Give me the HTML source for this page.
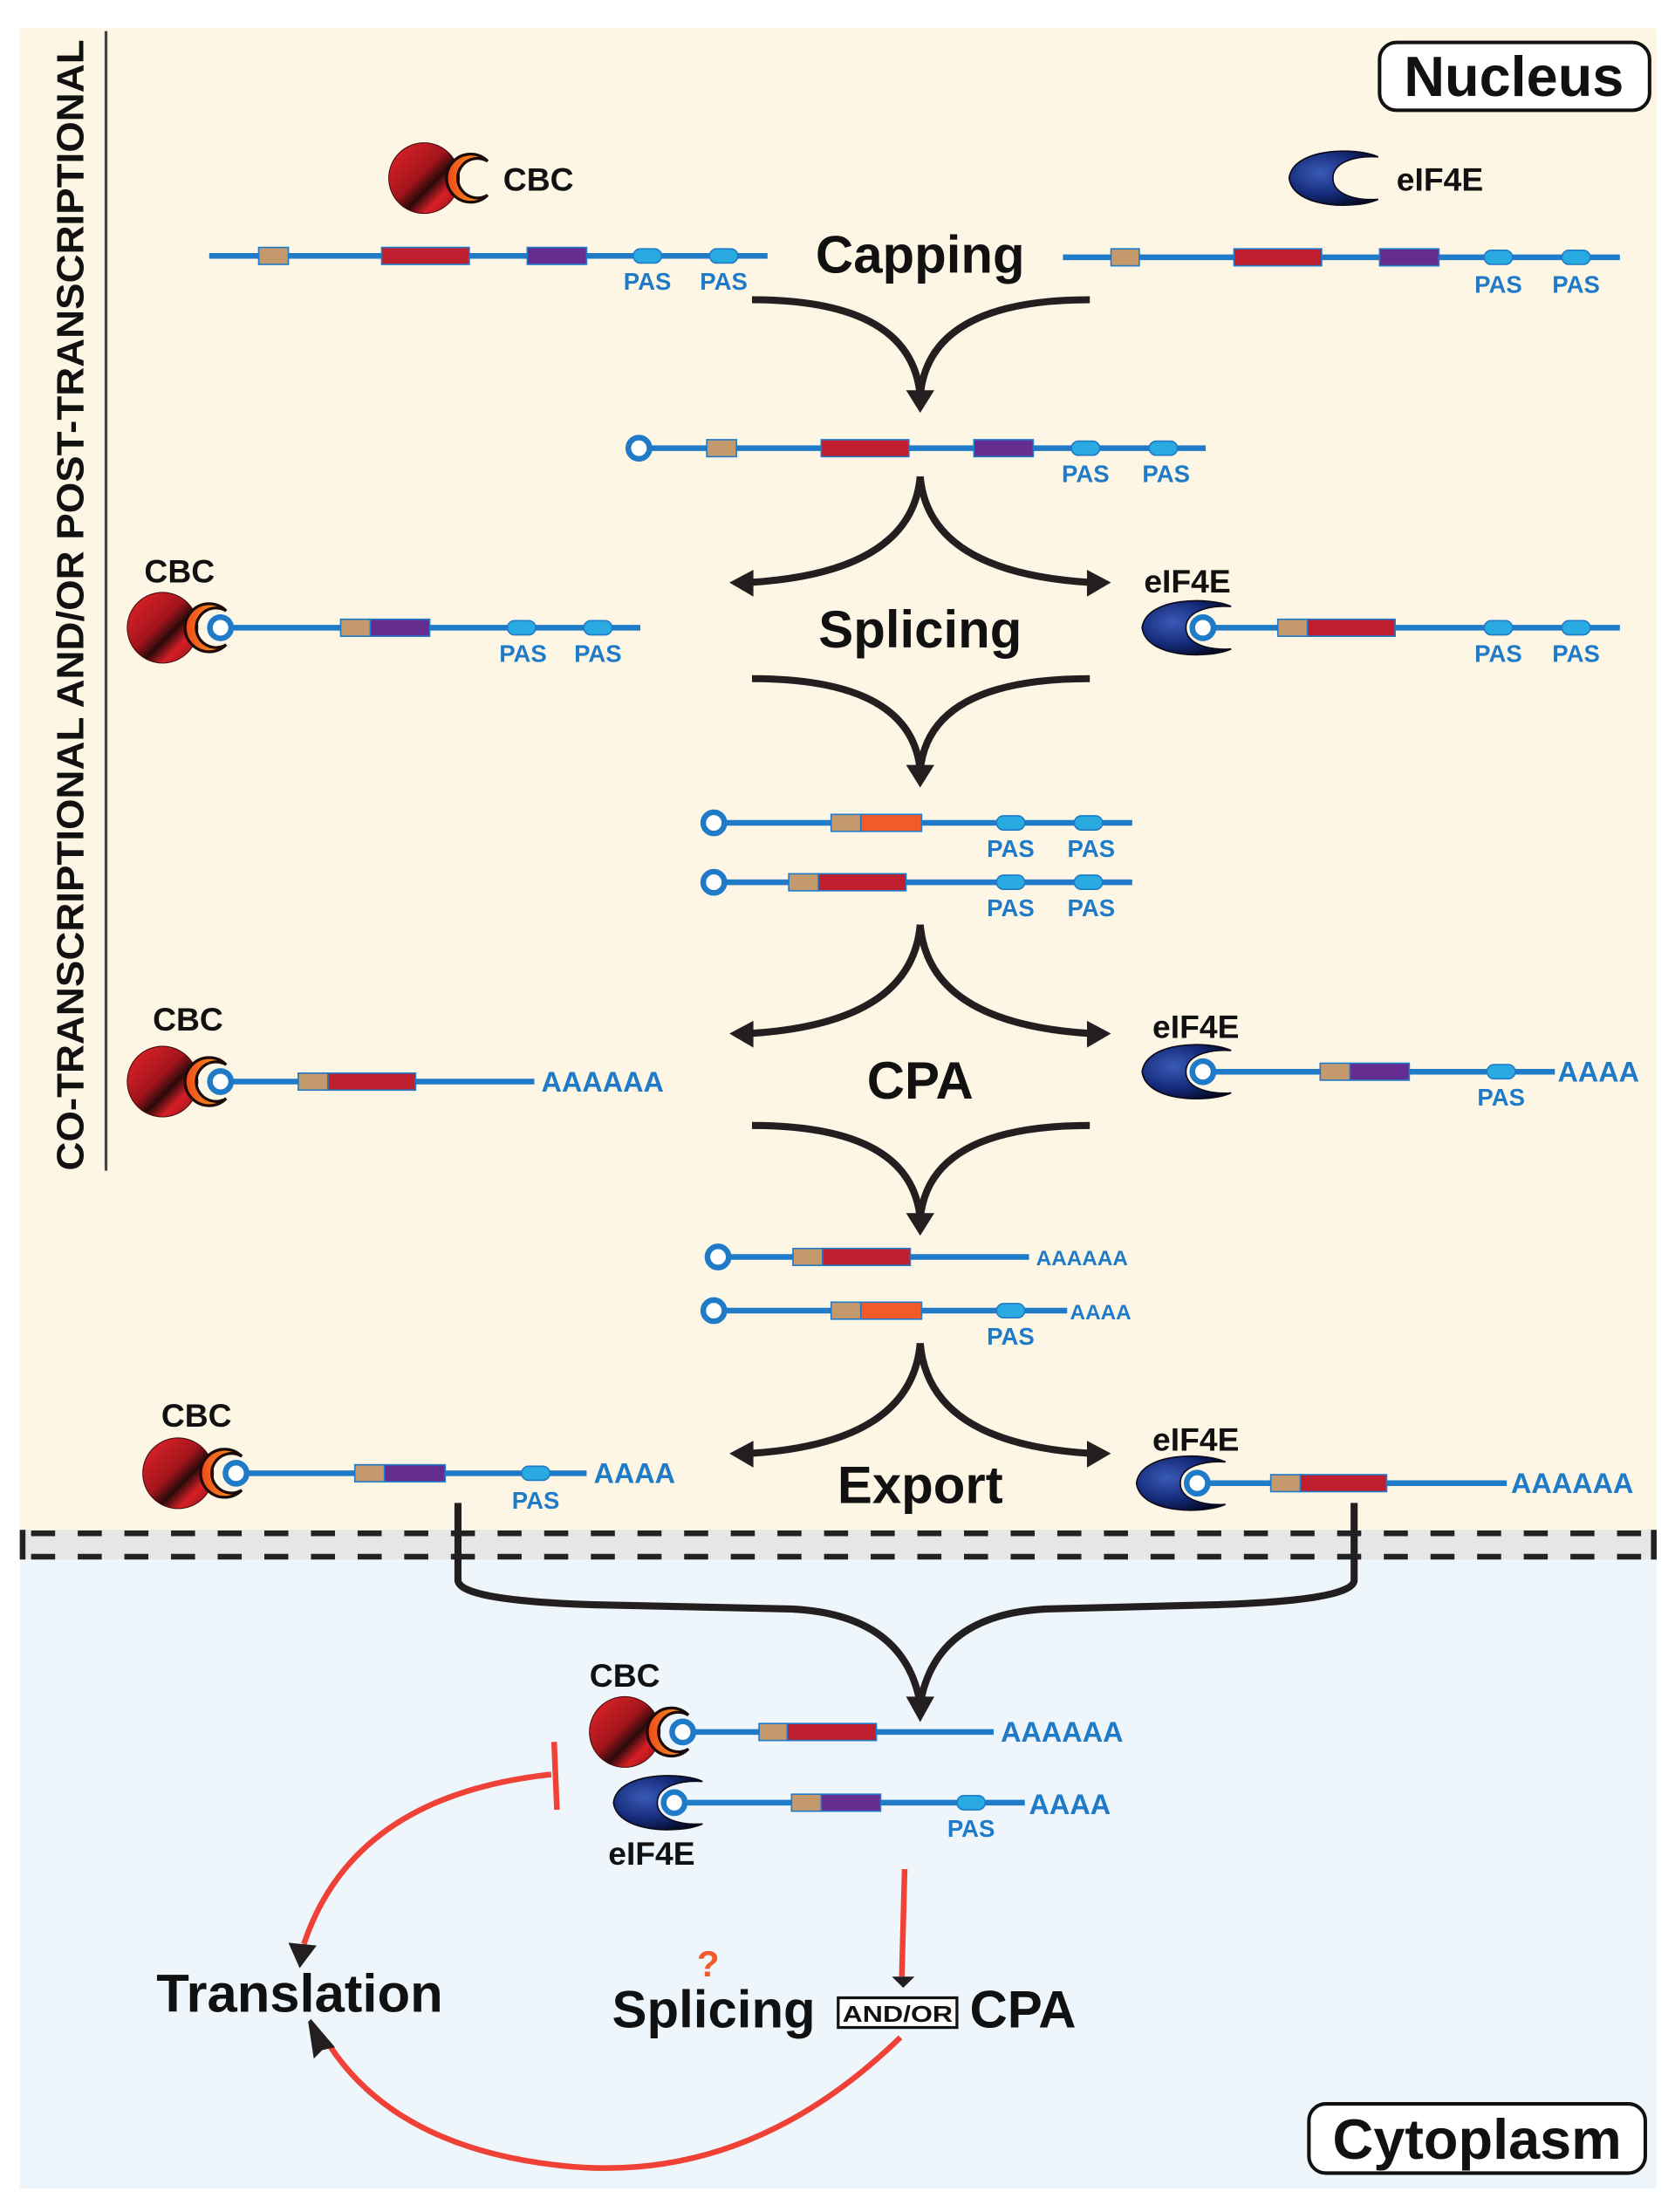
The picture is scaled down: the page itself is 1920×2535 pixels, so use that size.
<!DOCTYPE html>
<html><head><meta charset="utf-8"><style>
html,body{margin:0;padding:0;background:#fff;}
svg{display:block;}
text{font-family:"Liberation Sans",sans-serif;font-weight:bold;}
</style></head><body>
<svg width="1920" height="2535" viewBox="0 0 1185 1564.5" preserveAspectRatio="none" xmlns="http://www.w3.org/2000/svg">
<defs>
<linearGradient id="rg" x1="0" y1="0" x2="1" y2="1">
<stop offset="0" stop-color="#e8252b"/><stop offset="0.45" stop-color="#a3151c"/><stop offset="0.6" stop-color="#2a0a0a"/><stop offset="0.75" stop-color="#d81f26"/><stop offset="1" stop-color="#7a1015"/>
</linearGradient>
<linearGradient id="og" x1="0" y1="0" x2="1" y2="0">
<stop offset="0" stop-color="#f04a1c"/><stop offset="1" stop-color="#f9a21b"/>
</linearGradient>
<radialGradient id="bg2" cx="0.35" cy="0.4" r="0.7">
<stop offset="0" stop-color="#3a5ab8"/><stop offset="0.6" stop-color="#142a78"/><stop offset="1" stop-color="#050a24"/>
</radialGradient>
<g id="cbc">
<circle cx="-33" cy="0" r="25" fill="url(#rg)" stroke="#3a0a0a" stroke-width="0.6"/>
<path d="M 12,-12 A 17 17 0 1 0 12,12 A 14 14 0 1 1 12,-12 Z" fill="url(#og)" stroke="#1a0a0a" stroke-width="2"/>
</g>
<g id="eif">
<path d="M20,-15 C5,-22 -40,-22 -43,0 C-40,22 5,22 20,15 C5,16 -12,12 -12,0 C-12,-12 5,-16 20,-15 Z" fill="url(#bg2)" stroke="#0a0a1a" stroke-width="1"/>
</g>
<g id="ring"><circle r="7.5" fill="#fff" stroke="#1f7ac8" stroke-width="4"/></g>
<g id="pas"><rect x="-10" y="-5" width="20" height="10" rx="5" fill="#29abe2" stroke="#1f7ac8" stroke-width="1"/></g>
</defs>

<rect x="14" y="20" width="1158" height="1066" fill="#fdf6e5"/>
<rect x="14" y="1082" width="1158" height="22" fill="#e6e6e6"/>
<rect x="14" y="1103" width="1158" height="445" fill="#eef6fc"/>
<g stroke="#222" stroke-width="4" stroke-dasharray="17 16">
<line x1="22" y1="1084.5" x2="1172" y2="1084.5"/>
<line x1="22" y1="1101" x2="1172" y2="1101"/>
</g>
<line x1="16" y1="1082" x2="16" y2="1103" stroke="#222" stroke-width="4"/>
<line x1="1170" y1="1082" x2="1170" y2="1103" stroke="#222" stroke-width="4"/>

<line x1="75" y1="22" x2="75" y2="828" stroke="#444" stroke-width="2"/>
<text transform="translate(59,828) rotate(-90)" font-size="27" fill="#111" textLength="800" lengthAdjust="spacingAndGlyphs">CO-TRANSCRIPTIONAL AND/OR POST-TRANSCRIPTIONAL</text>

<rect x="976" y="30" width="191" height="48" rx="12" fill="#fff" stroke="#111" stroke-width="2.5"/>
<text x="1071" y="68" font-size="40" text-anchor="middle" fill="#111">Nucleus</text>
<rect x="926" y="1488" width="238" height="49" rx="12" fill="#fff" stroke="#111" stroke-width="2.5"/>
<text x="1045" y="1527" font-size="40" text-anchor="middle" fill="#111">Cytoplasm</text>

<g font-size="37" fill="#111" text-anchor="middle">
<text x="651" y="193">Capping</text>
<text x="651" y="458">Splicing</text>
<text x="651" y="777">CPA</text>
<text x="651" y="1063">Export</text>
</g>

<g fill="#1f7ac8" font-size="17">
<use href="#cbc" x="333" y="126"/>
<text x="356" y="135" font-size="23" fill="#111">CBC</text>
<line x1="148" y1="181" x2="543" y2="181" stroke="#1f7ac8" stroke-width="4"/>
<rect x="183" y="175" width="21" height="12" fill="#c49a6c" stroke="#1f7ac8"/>
<rect x="270" y="175" width="62" height="12" fill="#be1e2d" stroke="#1f7ac8"/>
<rect x="373" y="175" width="42" height="12" fill="#662d91" stroke="#1f7ac8"/>
<use href="#pas" x="458" y="181"/><use href="#pas" x="512" y="181"/>
<text x="458" y="205" text-anchor="middle">PAS</text><text x="512" y="205" text-anchor="middle">PAS</text>
<use href="#eif" x="955" y="126"/>
<text x="988" y="135" font-size="23" fill="#111">eIF4E</text>
<line x1="752" y1="182" x2="1146" y2="182" stroke="#1f7ac8" stroke-width="4"/>
<rect x="786" y="176" width="20" height="12" fill="#c49a6c" stroke="#1f7ac8"/>
<rect x="873" y="176" width="62" height="12" fill="#be1e2d" stroke="#1f7ac8"/>
<rect x="976" y="176" width="42" height="12" fill="#662d91" stroke="#1f7ac8"/>
<use href="#pas" x="1060" y="182"/><use href="#pas" x="1115" y="182"/>
<text x="1060" y="207" text-anchor="middle">PAS</text><text x="1115" y="207" text-anchor="middle">PAS</text>

<line x1="452" y1="317" x2="853" y2="317" stroke="#1f7ac8" stroke-width="4"/>
<use href="#ring" x="452" y="317"/>
<rect x="500" y="311" width="21" height="12" fill="#c49a6c" stroke="#1f7ac8"/>
<rect x="581" y="311" width="62" height="12" fill="#be1e2d" stroke="#1f7ac8"/>
<rect x="689" y="311" width="42" height="12" fill="#662d91" stroke="#1f7ac8"/>
<use href="#pas" x="768" y="317"/><use href="#pas" x="823" y="317"/>
<text x="768" y="341" text-anchor="middle">PAS</text><text x="825" y="341" text-anchor="middle">PAS</text>

<text x="127" y="412" font-size="23" fill="#111" text-anchor="middle">CBC</text>
<line x1="156" y1="444" x2="453" y2="444" stroke="#1f7ac8" stroke-width="4"/>
<use href="#cbc" x="148" y="444"/><use href="#ring" x="156" y="444"/>
<rect x="241" y="438" width="21" height="12" fill="#c49a6c" stroke="#1f7ac8"/>
<rect x="262" y="438" width="42" height="12" fill="#662d91" stroke="#1f7ac8"/>
<use href="#pas" x="369" y="444"/><use href="#pas" x="423" y="444"/>
<text x="370" y="468" text-anchor="middle">PAS</text><text x="423" y="468" text-anchor="middle">PAS</text>
<text x="840" y="419" font-size="23" fill="#111" text-anchor="middle">eIF4E</text>
<use href="#eif" x="851" y="444"/>
<line x1="851" y1="444" x2="1146" y2="444" stroke="#1f7ac8" stroke-width="4"/>
<use href="#ring" x="851" y="444"/>
<rect x="904" y="438" width="21" height="12" fill="#c49a6c" stroke="#1f7ac8"/>
<rect x="925" y="438" width="62" height="12" fill="#be1e2d" stroke="#1f7ac8"/>
<use href="#pas" x="1060" y="444"/><use href="#pas" x="1115" y="444"/>
<text x="1060" y="468" text-anchor="middle">PAS</text><text x="1115" y="468" text-anchor="middle">PAS</text>

<line x1="505" y1="582" x2="801" y2="582" stroke="#1f7ac8" stroke-width="4"/>
<use href="#ring" x="505" y="582"/>
<rect x="588" y="576" width="21" height="12" fill="#c49a6c" stroke="#1f7ac8"/>
<rect x="609" y="576" width="43" height="12" fill="#f15a29" stroke="#1f7ac8"/>
<use href="#pas" x="715" y="582"/><use href="#pas" x="770" y="582"/>
<text x="715" y="606" text-anchor="middle">PAS</text><text x="772" y="606" text-anchor="middle">PAS</text>
<line x1="505" y1="624" x2="801" y2="624" stroke="#1f7ac8" stroke-width="4"/>
<use href="#ring" x="505" y="624"/>
<rect x="558" y="618" width="21" height="12" fill="#c49a6c" stroke="#1f7ac8"/>
<rect x="579" y="618" width="62" height="12" fill="#be1e2d" stroke="#1f7ac8"/>
<use href="#pas" x="715" y="624"/><use href="#pas" x="770" y="624"/>
<text x="715" y="648" text-anchor="middle">PAS</text><text x="772" y="648" text-anchor="middle">PAS</text>

<text x="133" y="729" font-size="23" fill="#111" text-anchor="middle">CBC</text>
<line x1="156" y1="765" x2="378" y2="765" stroke="#1f7ac8" stroke-width="4"/>
<use href="#cbc" x="148" y="765"/><use href="#ring" x="156" y="765"/>
<rect x="211" y="759" width="21" height="12" fill="#c49a6c" stroke="#1f7ac8"/>
<rect x="232" y="759" width="62" height="12" fill="#be1e2d" stroke="#1f7ac8"/>
<text x="383" y="772" font-size="20">AAAAAA</text>
<text x="846" y="734" font-size="23" fill="#111" text-anchor="middle">eIF4E</text>
<use href="#eif" x="851" y="758"/>
<line x1="851" y1="758" x2="1100" y2="758" stroke="#1f7ac8" stroke-width="4"/>
<use href="#ring" x="851" y="758"/>
<rect x="934" y="752" width="21" height="12" fill="#c49a6c" stroke="#1f7ac8"/>
<rect x="955" y="752" width="42" height="12" fill="#662d91" stroke="#1f7ac8"/>
<use href="#pas" x="1062" y="758"/>
<text x="1062" y="782" text-anchor="middle">PAS</text>
<text x="1102" y="765" font-size="20">AAAA</text>

<line x1="508" y1="889" x2="728" y2="889" stroke="#1f7ac8" stroke-width="4"/>
<use href="#ring" x="508" y="889"/>
<rect x="561" y="883" width="21" height="12" fill="#c49a6c" stroke="#1f7ac8"/>
<rect x="582" y="883" width="62" height="12" fill="#be1e2d" stroke="#1f7ac8"/>
<text x="733" y="895" font-size="15">AAAAAA</text>
<line x1="505" y1="927" x2="755" y2="927" stroke="#1f7ac8" stroke-width="4"/>
<use href="#ring" x="505" y="927"/>
<rect x="588" y="921" width="21" height="12" fill="#c49a6c" stroke="#1f7ac8"/>
<rect x="609" y="921" width="43" height="12" fill="#f15a29" stroke="#1f7ac8"/>
<use href="#pas" x="715" y="927"/>
<text x="715" y="951" text-anchor="middle">PAS</text>
<text x="757" y="933" font-size="15">AAAA</text>

<text x="139" y="1009" font-size="23" fill="#111" text-anchor="middle">CBC</text>
<line x1="167" y1="1042" x2="415" y2="1042" stroke="#1f7ac8" stroke-width="4"/>
<use href="#cbc" x="159" y="1042"/><use href="#ring" x="167" y="1042"/>
<rect x="251" y="1036" width="21" height="12" fill="#c49a6c" stroke="#1f7ac8"/>
<rect x="272" y="1036" width="43" height="12" fill="#662d91" stroke="#1f7ac8"/>
<use href="#pas" x="379" y="1042"/>
<text x="379" y="1067" text-anchor="middle">PAS</text>
<text x="420" y="1049" font-size="20">AAAA</text>
<text x="846" y="1026" font-size="23" fill="#111" text-anchor="middle">eIF4E</text>
<use href="#eif" x="847" y="1049"/>
<line x1="847" y1="1049" x2="1066" y2="1049" stroke="#1f7ac8" stroke-width="4"/>
<use href="#ring" x="847" y="1049"/>
<rect x="899" y="1043" width="21" height="12" fill="#c49a6c" stroke="#1f7ac8"/>
<rect x="920" y="1043" width="61" height="12" fill="#be1e2d" stroke="#1f7ac8"/>
<text x="1069" y="1056" font-size="20">AAAAAA</text>

<text x="442" y="1193" font-size="23" fill="#111" text-anchor="middle">CBC</text>
<line x1="483" y1="1225" x2="703" y2="1225" stroke="#1f7ac8" stroke-width="4"/>
<use href="#cbc" x="475" y="1225"/><use href="#ring" x="483" y="1225"/>
<rect x="537" y="1219" width="20" height="12" fill="#c49a6c" stroke="#1f7ac8"/>
<rect x="557" y="1219" width="63" height="12" fill="#be1e2d" stroke="#1f7ac8"/>
<text x="708" y="1232" font-size="20">AAAAAA</text>
<use href="#eif" x="477" y="1275"/>
<line x1="477" y1="1275" x2="725" y2="1275" stroke="#1f7ac8" stroke-width="4"/>
<use href="#ring" x="477" y="1275"/>
<rect x="560" y="1269" width="21" height="12" fill="#c49a6c" stroke="#1f7ac8"/>
<rect x="581" y="1269" width="42" height="12" fill="#662d91" stroke="#1f7ac8"/>
<use href="#pas" x="687" y="1275"/>
<text x="687" y="1299" text-anchor="middle">PAS</text>
<text x="728" y="1283" font-size="20">AAAA</text>
<text x="461" y="1319" font-size="23" fill="#111" text-anchor="middle">eIF4E</text>
</g>

<g fill="none" stroke="#231f20" stroke-width="5">
<path d="M532,212 Q645,212 651,280"/><path d="M771,212 Q657,212 651,280"/>
<path d="M651,337 Q645,405 530,412"/><path d="M651,337 Q657,405 772,412"/>
<path d="M532,480 Q645,480 651,545"/><path d="M771,480 Q657,480 651,545"/>
<path d="M651,654 Q645,724 530,731"/><path d="M651,654 Q657,724 772,731"/>
<path d="M532,796 Q645,796 651,862"/><path d="M771,796 Q657,796 651,862"/>
<path d="M651,950 Q645,1021 530,1028"/><path d="M651,950 Q657,1021 772,1028"/>
<path d="M324,1063 L324,1118 Q326,1132 420,1135 L560,1138 Q640,1142 651,1205"/>
<path d="M958,1063 L958,1118 Q956,1132 860,1135 L740,1138 Q662,1142 651,1205"/>
</g>
<g fill="#231f20">
<polygon points="641,276 661,276 651,292"/>
<polygon points="641,541 661,541 651,557"/>
<polygon points="641,858 661,858 651,874"/>
<polygon points="641,1200 661,1200 651,1218"/>
<polygon points="533,403 533,422 516,412"/>
<polygon points="769,403 769,422 786,412"/>
<polygon points="533,722 533,741 516,731"/>
<polygon points="769,722 769,741 786,731"/>
<polygon points="533,1019 533,1038 516,1028"/>
<polygon points="769,1019 769,1038 786,1028"/>
</g>

<g fill="none" stroke="#ef4136" stroke-width="4">
<path d="M390,1255 Q250,1270 215,1375"/>
<line x1="392" y1="1232" x2="394" y2="1280"/>
<line x1="640" y1="1322" x2="638" y2="1398"/>
<path d="M637,1441 Q530,1545 400,1532 Q280,1520 232,1445"/>
</g>
<polygon points="204,1374 224,1376 212,1392" fill="#231f20"/>
<polygon points="220,1428 237,1448 228,1450 222,1456 218,1430" fill="#231f20"/>
<polygon points="631,1398 647,1398 639,1406" fill="#231f20"/>

<text x="212" y="1423" font-size="38" fill="#111" text-anchor="middle">Translation</text>
<text x="501" y="1398" font-size="26" fill="#f15a29" text-anchor="middle">?</text>
<text x="433" y="1434" font-size="37" fill="#111">Splicing</text>
<rect x="593" y="1413" width="84" height="21" fill="#fff" stroke="#111" stroke-width="2"/>
<text x="635" y="1430" font-size="16" fill="#111" text-anchor="middle" textLength="78" lengthAdjust="spacingAndGlyphs">AND/OR</text>
<text x="686" y="1434" font-size="37" fill="#111">CPA</text>
</svg>
</body></html>
